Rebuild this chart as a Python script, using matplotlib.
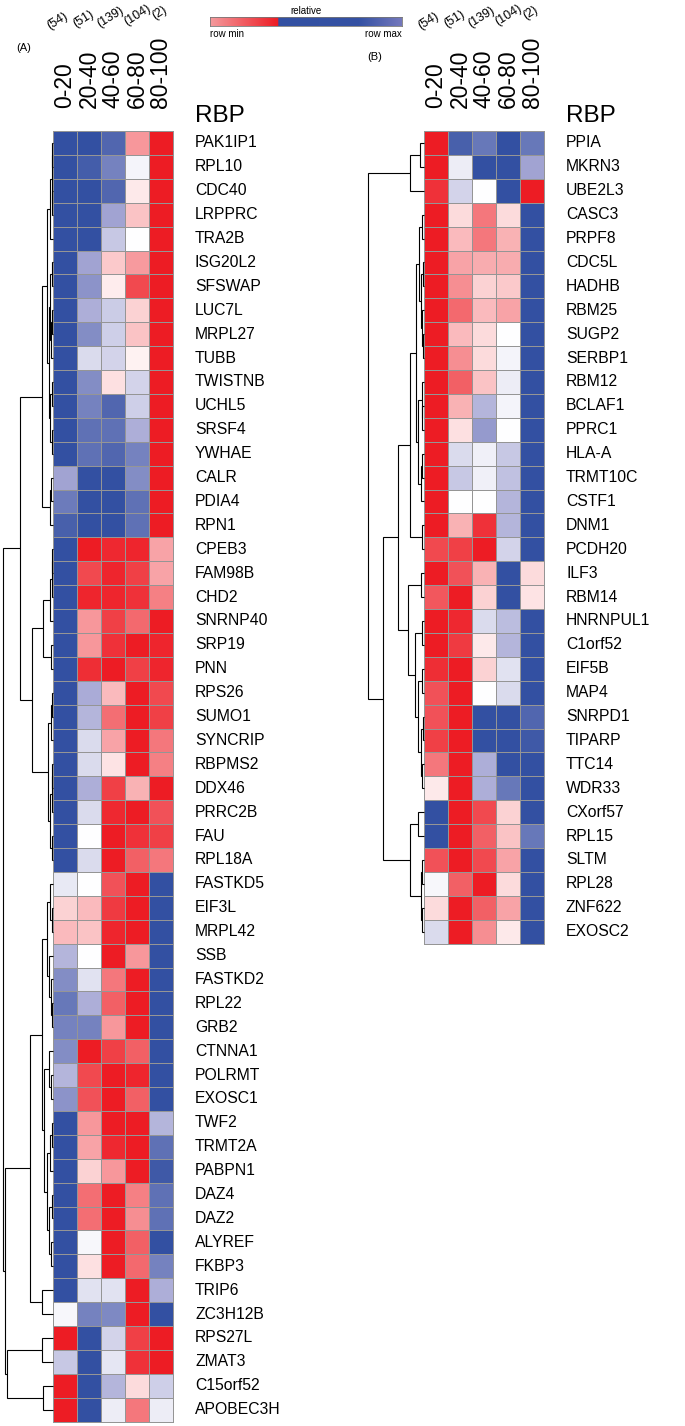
import numpy as np
import matplotlib
matplotlib.use('Agg')
import matplotlib.pyplot as plt
from matplotlib.colors import LinearSegmentedColormap

plt.rcParams['font.family'] = ['Liberation Sans', 'DejaVu Sans']

# ---------------- data ----------------
bins = ['0-20', '20-40', '40-60', '60-80', '80-100']
counts = ['(54)', '(51)', '(139)', '(104)', '(2)']

rbp_a = ['PAK1IP1', 'RPL10', 'CDC40', 'LRPPRC', 'TRA2B', 'ISG20L2', 'SFSWAP', 'LUC7L',
         'MRPL27', 'TUBB', 'TWISTNB', 'UCHL5', 'SRSF4', 'YWHAE', 'CALR', 'PDIA4', 'RPN1',
         'CPEB3', 'FAM98B', 'CHD2', 'SNRNP40', 'SRP19', 'PNN', 'RPS26', 'SUMO1', 'SYNCRIP',
         'RBPMS2', 'DDX46', 'PRRC2B', 'FAU', 'RPL18A', 'FASTKD5', 'EIF3L', 'MRPL42', 'SSB',
         'FASTKD2', 'RPL22', 'GRB2', 'CTNNA1', 'POLRMT', 'EXOSC1', 'TWF2', 'TRMT2A', 'PABPN1',
         'DAZ4', 'DAZ2', 'ALYREF', 'FKBP3', 'TRIP6', 'ZC3H12B', 'RPS27L', 'ZMAT3', 'C15orf52',
         'APOBEC3H']

# relative (row-scaled) values: 0 = row min (red), 1 = row max (blue)
vals_a = [
    [1.00, 1.00, 0.93, 0.27, 0.00],
    [1.00, 0.96, 0.85, 0.53, 0.00],
    [1.00, 1.00, 0.93, 0.45, 0.00],
    [1.00, 1.00, 0.75, 0.37, 0.00],
    [1.00, 1.00, 0.65, 0.50, 0.00],
    [1.00, 0.75, 0.38, 0.28, 0.00],
    [1.00, 0.80, 0.46, 0.10, 0.00],
    [1.00, 0.72, 0.64, 0.40, 0.00],
    [1.00, 0.82, 0.63, 0.37, 0.00],
    [1.00, 0.60, 0.62, 0.47, 0.00],
    [1.00, 0.82, 0.43, 0.62, 0.00],
    [1.00, 0.85, 0.93, 0.63, 0.00],
    [1.00, 0.90, 0.90, 0.72, 0.00],
    [1.00, 0.90, 0.93, 0.85, 0.00],
    [0.75, 1.00, 1.00, 0.82, 0.00],
    [0.87, 1.00, 1.00, 0.90, 0.00],
    [0.95, 1.00, 1.00, 0.90, 0.00],
    [1.00, 0.00, 0.03, 0.02, 0.30],
    [1.00, 0.10, 0.02, 0.08, 0.30],
    [1.00, 0.02, 0.02, 0.05, 0.22],
    [1.00, 0.27, 0.08, 0.17, 0.00],
    [1.00, 0.27, 0.05, 0.00, 0.02],
    [1.00, 0.04, 0.00, 0.08, 0.02],
    [1.00, 0.73, 0.35, 0.00, 0.10],
    [1.00, 0.70, 0.18, 0.00, 0.08],
    [1.00, 0.60, 0.30, 0.00, 0.20],
    [1.00, 0.60, 0.44, 0.00, 0.22],
    [1.00, 0.72, 0.08, 0.33, 0.00],
    [1.00, 0.60, 0.03, 0.00, 0.12],
    [1.00, 0.50, 0.00, 0.05, 0.08],
    [1.00, 0.60, 0.00, 0.15, 0.20],
    [0.56, 0.50, 0.12, 0.00, 1.00],
    [0.40, 0.35, 0.07, 0.00, 1.00],
    [0.35, 0.37, 0.02, 0.00, 1.00],
    [0.70, 0.50, 0.00, 0.27, 1.00],
    [0.82, 0.58, 0.20, 0.00, 1.00],
    [0.88, 0.72, 0.15, 0.00, 1.00],
    [0.85, 0.85, 0.27, 0.00, 1.00],
    [0.82, 0.00, 0.08, 0.15, 1.00],
    [0.70, 0.10, 0.00, 0.02, 1.00],
    [0.80, 0.12, 0.00, 0.15, 1.00],
    [1.00, 0.27, 0.00, 0.00, 0.70],
    [1.00, 0.30, 0.03, 0.00, 0.90],
    [1.00, 0.40, 0.27, 0.00, 0.97],
    [1.00, 0.18, 0.00, 0.22, 0.90],
    [1.00, 0.18, 0.00, 0.25, 0.90],
    [1.00, 0.52, 0.00, 0.15, 1.00],
    [1.00, 0.43, 0.00, 0.17, 0.85],
    [1.00, 0.58, 0.58, 0.00, 0.72],
    [0.52, 0.85, 0.83, 0.00, 1.00],
    [0.00, 1.00, 0.62, 0.08, 0.00],
    [0.65, 1.00, 0.57, 0.05, 0.00],
    [0.00, 1.00, 0.70, 0.42, 0.63],
    [0.00, 1.00, 0.55, 0.20, 0.55],
]

# dendrogram A: [merge distance, left, right]; ints are row indices
tree_a = [1.00,
          [0.66,
           [0.22,
            [0.12,
             [0.07, [0.03, [0.015, 0, 1], [0.02, 2, 3]], 4],
             [0.09, [0.06, [0.03, 5, 6], [0.04, [0.02, 7, 8], 9]],
              [0.07, [0.03, 10, 11], [0.02, 12, 13]]]],
            [0.07, [0.04, 14, 15], 16]],
           [0.42,
            [0.20, [0.06, [0.03, [0.015, 17, 18], 19], 20], [0.04, 21, 22]],
            [0.10, [0.04, [0.02, 23, 24], 25],
             [0.06, [0.03, [0.02, 26, 27], 28], [0.03, 29, 30]]]]],
          [0.96,
           [0.46,
            [0.22,
             [0.12, [0.06, 31, [0.03, 32, 33]], [0.08, 34, [0.05, 35, [0.03, 36, 37]]]],
             [0.18, [0.08, 38, [0.04, 39, 40]],
              [0.12, [0.06, [0.03, 41, 42], 43], [0.08, [0.02, 44, 45], [0.05, 46, 47]]]]],
            [0.22, 48, 49]],
           [0.92, [0.22, 50, 51], [0.20, 52, 53]]]]

rbp_b = ['PPIA', 'MKRN3', 'UBE2L3', 'CASC3', 'PRPF8', 'CDC5L', 'HADHB', 'RBM25', 'SUGP2',
         'SERBP1', 'RBM12', 'BCLAF1', 'PPRC1', 'HLA-A', 'TRMT10C', 'CSTF1', 'DNM1', 'PCDH20',
         'ILF3', 'RBM14', 'HNRNPUL1', 'C1orf52', 'EIF5B', 'MAP4', 'SNRPD1', 'TIPARP', 'TTC14',
         'WDR33', 'CXorf57', 'RPL15', 'SLTM', 'RPL28', 'ZNF622', 'EXOSC2']

vals_b = [
    [0.00, 0.95, 0.88, 1.00, 0.88],
    [0.00, 0.55, 1.00, 1.00, 0.75],
    [0.05, 0.62, 0.50, 1.00, 0.00],
    [0.00, 0.42, 0.20, 0.42, 1.00],
    [0.00, 0.35, 0.20, 0.33, 1.00],
    [0.00, 0.30, 0.32, 0.32, 1.00],
    [0.00, 0.25, 0.40, 0.38, 1.00],
    [0.00, 0.17, 0.35, 0.30, 1.00],
    [0.00, 0.35, 0.42, 0.50, 1.00],
    [0.00, 0.25, 0.42, 0.53, 1.00],
    [0.00, 0.15, 0.37, 0.55, 1.00],
    [0.00, 0.33, 0.70, 0.53, 1.00],
    [0.00, 0.43, 0.78, 0.50, 1.00],
    [0.00, 0.60, 0.54, 0.65, 1.00],
    [0.00, 0.65, 0.54, 0.67, 1.00],
    [0.00, 0.50, 0.50, 0.70, 1.00],
    [0.00, 0.33, 0.05, 0.70, 1.00],
    [0.10, 0.08, 0.00, 0.62, 1.00],
    [0.00, 0.12, 0.33, 1.00, 0.42],
    [0.13, 0.00, 0.40, 1.00, 0.44],
    [0.00, 0.03, 0.60, 0.68, 1.00],
    [0.00, 0.07, 0.45, 0.70, 1.00],
    [0.04, 0.00, 0.40, 0.58, 1.00],
    [0.12, 0.00, 0.50, 0.60, 1.00],
    [0.12, 0.00, 1.00, 1.00, 0.93],
    [0.08, 0.00, 1.00, 1.00, 0.97],
    [0.20, 0.00, 0.72, 1.00, 1.00],
    [0.45, 0.00, 0.72, 0.88, 1.00],
    [1.00, 0.00, 0.10, 0.40, 1.00],
    [1.00, 0.00, 0.15, 0.37, 0.88],
    [0.12, 0.00, 0.10, 0.30, 1.00],
    [0.52, 0.15, 0.00, 0.42, 1.00],
    [0.42, 0.00, 0.15, 0.30, 1.00],
    [0.60, 0.00, 0.25, 0.45, 1.00],
]

tree_b = [1.00,
          [0.25, [0.07, 0, 1], 2],
          [0.73,
           [0.46,
            [0.25,
             [0.14,
              [0.09, [0.03, 3, 4], [0.05, [0.02, 5, 6], [0.03, 7, [0.02, 8, 9]]]],
              [0.10, [0.04, 10, [0.03, 11, 12]], [0.06, [0.03, 13, 14], 15]]],
             [0.04, 16, 17]],
            [0.29, [0.06, 18, 19],
             [0.16, [0.04, 20, 21],
              [0.10, [0.04, 22, 23], [0.06, [0.02, 24, 25], [0.04, 26, 27]]]]]],
           [0.25, [0.10, 28, 29], [0.06, [0.03, 30, 31], [0.04, 32, 33]]]]]

# ---------------- styling ----------------
W, H = 685, 1426
fig = plt.figure(figsize=(W / 100, H / 100), dpi=100)

heat_cmap = LinearSegmentedColormap.from_list(
    'rel', [(0.0, '#ED1C24'), (0.5, '#FFFFFF'), (0.75, '#A2A4D3'), (1.0, '#3350A2')])
legend_cmap = LinearSegmentedColormap.from_list(
    'leg', [(0.0, '#F49A9D'), (0.355, '#ED1C24'), (0.357, '#3350A2'),
            (0.78, '#3552A4'), (1.0, '#7478BC')])

ROW_H = 23.9
TOP = 131


def px_axes(x0, y0, x1, y1):
    return fig.add_axes([x0 / W, 1 - y1 / H, (x1 - x0) / W, (y1 - y0) / H])


def draw_tree(ax, node):
    if isinstance(node, int):
        return 0.0, node + 0.5
    h, left, right = node
    x1, y1 = draw_tree(ax, left)
    x2, y2 = draw_tree(ax, right)
    ax.plot([x1, h, h, x2], [y1, y1, y2, y2], color='black', lw=0.8,
            solid_joinstyle='miter', solid_capstyle='butt', clip_on=False)
    return h, (y1 + y2) / 2


def panel(hx0, vals, names, tree, dendro_w, tag, tag_xy):
    v = np.array(vals)
    n, m = v.shape
    bottom = TOP + n * ROW_H
    ax = px_axes(hx0, TOP, hx0 + 24 * m, bottom)
    mesh = ax.pcolormesh(v, cmap=heat_cmap, vmin=0, vmax=1,
                         edgecolors='#959595', linewidth=0.7)
    mesh.set_clip_on(False)
    ax.set_xlim(0, m)
    ax.set_ylim(n, 0)
    ax.axis('off')
    # row labels
    for i, name in enumerate(names):
        ax.annotate(name, xy=(1, i + 0.5), xycoords=('axes fraction', 'data'),
                    xytext=(22, 0), textcoords='offset pixels',
                    ha='left', va='center', fontsize=11.3)
    # column labels
    for j, b in enumerate(bins):
        ax.annotate(b, xy=(j + 0.5, 1), xycoords=('data', 'axes fraction'),
                    xytext=(0, 23), textcoords='offset pixels', rotation=90,
                    ha='center', va='bottom', fontsize=16.5)
    # counts
    offs = [(-8, 110), (-6, 112), (-3, 114), (0, 116), (-1, 118)]
    for j, c in enumerate(counts):
        ax.annotate(c, xy=(j + 0.5, 1), xycoords=('data', 'axes fraction'),
                    xytext=offs[j], textcoords='offset pixels', rotation=32,
                    rotation_mode='anchor', ha='center', va='center', fontsize=9)
    # RBP header
    ax.annotate('RBP', xy=(1, 1), xycoords='axes fraction', xytext=(22, 9),
                textcoords='offset pixels', ha='left', va='baseline', fontsize=17.5)
    # panel tag
    fig.text(tag_xy[0] / W, 1 - tag_xy[1] / H, tag, ha='center', va='center', fontsize=8)
    # dendrogram
    axd = px_axes(hx0 - dendro_w, TOP, hx0, bottom)
    root_h = draw_tree(axd, tree)[0]
    axd.set_xlim(root_h * dendro_w / (dendro_w - 3), 0)
    axd.set_ylim(n, 0)
    axd.axis('off')


panel(53, vals_a, rbp_a, tree_a, 53, '(A)', (24, 48))
panel(424, vals_b, rbp_b, tree_b, 59, '(B)', (375, 57))

# legend colour bar
cb_x0, cb_x1 = 210, 402
axc = px_axes(cb_x0, 17, cb_x1, 26)
axc.imshow(np.linspace(0, 1, 256)[None, :], aspect='auto', cmap=legend_cmap,
           extent=[0, 1, 0, 1])
axc.set_xticks([])
axc.set_yticks([])
for s in axc.spines.values():
    s.set_color('#777777')
    s.set_linewidth(0.6)
axc.text(0.5, 1.15, 'relative', transform=axc.transAxes, ha='center', va='bottom', fontsize=7)
axc.text(0.0, -0.35, 'row min', transform=axc.transAxes, ha='left', va='top', fontsize=7)
axc.text(1.0, -0.35, 'row max', transform=axc.transAxes, ha='right', va='top', fontsize=7)

fig.savefig('out.png', dpi=100)
